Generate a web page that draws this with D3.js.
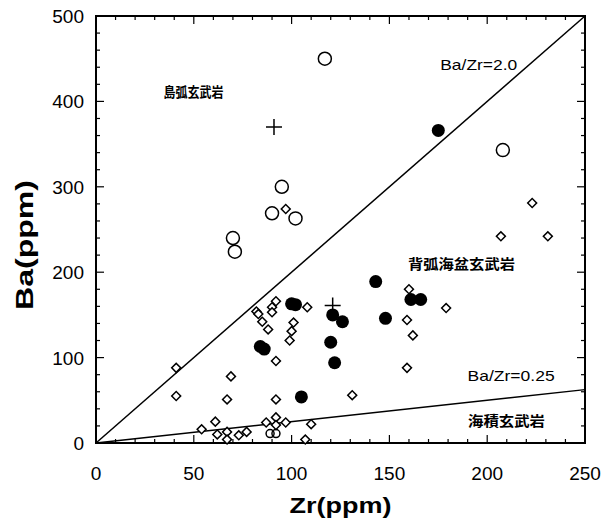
<!DOCTYPE html>
<html>
<head>
<meta charset="utf-8">
<script src="https://cdn.jsdelivr.net/npm/d3@7"></script>
<style>
  body { margin: 0; background: #fff; }
  svg { display: block; }
  text { fill: #000; }
</style>
</head>
<body>
<script>
// island arc basalts (open circles)
const arcCircles = [[117, 450], [95, 300], [90, 269], [102, 263], [70, 240], [71, 224], [208, 343]];
// small rings near the bottom axis
const smallRings = [[89, 11], [92, 11]];
const crosses = [[91, 370], [121, 161]];
// back-arc basin basalts (filled circles)
const filledDots = [[175, 366], [143, 189], [161, 168], [166, 168], [148, 146], [121, 150], [126, 142],
  [100, 163], [102, 162], [84, 113], [86, 110], [120, 118], [122, 94], [105, 54]];
// open diamonds
const diamonds = [[97, 274], [223, 281], [207, 242], [231, 242], [160, 180], [179, 158], [159, 144],
  [162, 126], [159, 88], [131, 56], [108, 159], [92, 166], [90, 159], [90, 153], [82, 154], [83, 151],
  [85, 142], [88, 133], [101, 141], [100, 131], [99, 120], [92, 96], [41, 88], [69, 78], [41, 55],
  [67, 51], [92, 51], [61, 25], [54, 16], [62, 10], [67, 13], [67, 4], [73, 9], [77, 13], [87, 24],
  [92, 30], [92, 21], [97, 24], [110, 22], [107, 4]];

const ratios = [2.0, 0.25];
const xTicks = [0, 50, 100, 150, 200, 250];
const yTicks = [0, 100, 200, 300, 400, 500];

// text notes: [text, x, y, width]
const notes = [
  ["島弧玄武岩", 34.5, 405, 60],
  ["背弧海盆玄武岩", 159.5, 204, 107],
  ["海積玄武岩", 190.2, 20, 77]
];
const ratioNotes = [["Ba/Zr=2.0", 176, 437, 77], ["Ba/Zr=0.25", 190, 73, 87]];

const W = 603, H = 521;
const x = d3.scaleLinear([0, 250], [96, 585]);
const y = d3.scaleLinear([0, 500], [443, 16]);

const svg = d3.create("svg").attr("width", W).attr("height", H);
document.body.appendChild(svg.node());

const font = "'Liberation Sans', Arial, Helvetica, sans-serif";
const cjk = "'Noto Sans CJK JP', 'Noto Sans CJK SC', sans-serif";

// ticks, inward on all four sides
const g = svg.append("g");
const xMinor = d3.range(0, 251, 10);
const yMinor = d3.range(0, 501, 20);
xMinor.forEach(v => {
  const L = v % 50 === 0 ? 8 : 4;
  g.append("line").attr("x1", x(v)).attr("x2", x(v)).attr("y1", y(0)).attr("y2", y(0) - L);
  g.append("line").attr("x1", x(v)).attr("x2", x(v)).attr("y1", y(500)).attr("y2", y(500) + L);
});
yMinor.forEach(v => {
  const L = v % 100 === 0 ? 8 : 4;
  g.append("line").attr("x1", x(0)).attr("x2", x(0) + L).attr("y1", y(v)).attr("y2", y(v));
  g.append("line").attr("x1", x(250)).attr("x2", x(250) - L).attr("y1", y(v)).attr("y2", y(v));
});
g.selectAll("line").attr("stroke", "#000").attr("stroke-width", 1.2);

svg.append("rect")
  .attr("x", x(0)).attr("y", y(500))
  .attr("width", x(250) - x(0)).attr("height", y(0) - y(500))
  .attr("fill", "none").attr("stroke", "#000").attr("stroke-width", 2);

// tick labels
svg.selectAll(".xl").data(xTicks).join("text")
  .attr("x", d => x(d)).attr("y", y(0) + 37)
  .attr("text-anchor", "middle")
  .style("font", `19px ${font}`)
  .text(d => d);
svg.selectAll(".yl").data(yTicks).join("text")
  .attr("x", x(0) - 12).attr("y", d => y(d) + 7)
  .attr("text-anchor", "end")
  .style("font", `19px ${font}`)
  .text(d => d);

// axis titles
svg.append("text")
  .attr("x", x(125)).attr("y", 513)
  .attr("text-anchor", "middle")
  .attr("textLength", 102).attr("lengthAdjust", "spacingAndGlyphs")
  .style("font", `bold 22px ${font}`)
  .text("Zr(ppm)");
svg.append("text")
  .attr("transform", `translate(33,${(172 + 318) / 2}) rotate(-90)`)
  .attr("text-anchor", "middle")
  .attr("textLength", 130).attr("lengthAdjust", "spacingAndGlyphs")
  .style("font", `bold 23px ${font}`)
  .text("Ba(ppm)");

// ratio lines
const plot = svg.append("g");
plot.selectAll(".ratio").data(ratios).join("line")
  .attr("x1", x(0)).attr("y1", y(0))
  .attr("x2", d => x(Math.min(250, 500 / d))).attr("y2", d => y(Math.min(500, 250 * d)))
  .attr("stroke", "#000").attr("stroke-width", 1.5);

plot.selectAll(".rn").data(ratioNotes).join("text")
  .attr("x", d => x(d[1])).attr("y", d => y(d[2]))
  .attr("textLength", d => d[3]).attr("lengthAdjust", "spacingAndGlyphs")
  .style("font", `15px ${font}`)
  .text(d => d[0]);

plot.selectAll(".note").data(notes).join("text")
  .attr("x", d => x(d[1])).attr("y", d => y(d[2]))
  .attr("textLength", d => d[3]).attr("lengthAdjust", "spacingAndGlyphs")
  .style("font", `bold 14px ${cjk}`)
  .text(d => d[0]);

// markers
plot.selectAll(".dia").data(diamonds).join("path")
  .attr("d", d3.symbol(d3.symbolSquare, 40)())
  .attr("transform", d => `translate(${x(d[0])},${y(d[1])}) rotate(45)`)
  .attr("fill", "#fff").attr("stroke", "#000").attr("stroke-width", 1.5);

plot.selectAll(".arc").data(arcCircles).join("circle")
  .attr("cx", d => x(d[0])).attr("cy", d => y(d[1])).attr("r", 6.5)
  .attr("fill", "none").attr("stroke", "#000").attr("stroke-width", 1.5);

plot.selectAll(".ring").data(smallRings).join("circle")
  .attr("cx", d => x(d[0])).attr("cy", d => y(d[1])).attr("r", 4)
  .attr("fill", "none").attr("stroke", "#000").attr("stroke-width", 1.5);

plot.selectAll(".dot").data(filledDots).join("circle")
  .attr("cx", d => x(d[0])).attr("cy", d => y(d[1])).attr("r", 6.5)
  .attr("fill", "#000");

plot.selectAll(".cross").data(crosses).join("path")
  .attr("d", "M-8,0H8M0,-8V8")
  .attr("transform", d => `translate(${x(d[0])},${y(d[1])})`)
  .attr("stroke", "#000").attr("stroke-width", 1.5);
</script>
</body>
</html>
